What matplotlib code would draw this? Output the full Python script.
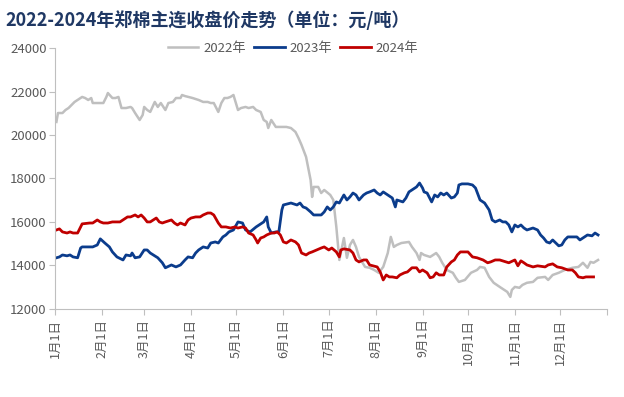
import matplotlib
matplotlib.use("Agg")
import matplotlib.pyplot as plt

plt.rcParams['font.family'] = ['Noto Sans CJK SC', 'DejaVu Sans']

# day of year (0 = 1月1日) and closing price
days_2022 = [1, 2, 5, 7, 9, 11, 13, 15, 18, 20, 22, 24, 25, 28, 32, 34, 35, 38, 40, 42,
             44, 47, 50, 51, 53, 56, 58, 59, 61, 63, 66, 68, 70, 73, 75, 78, 80, 83, 84, 86,
             91, 95, 98, 101, 103, 105, 108, 110, 112, 114, 116, 118, 121, 123, 126, 128, 131, 133, 136, 138,
             140, 141, 143, 146, 149, 153, 156, 159, 161, 163, 166, 169, 170, 171, 174, 176, 178, 182, 184, 186,
             188, 191, 193, 195, 197, 199, 201, 205, 208, 211, 214, 217, 220, 222, 224, 226, 229, 234, 236, 239,
             241, 242, 244, 248, 252, 254, 256, 259, 263, 265, 267, 271, 275, 279, 281, 284, 287, 290, 294, 299,
             301, 302, 304, 307, 309, 312, 316, 319, 324, 326, 329, 333, 337, 342, 346, 349, 352, 354, 356, 359]
price_2022 = [20600, 21010, 21010, 21150, 21240, 21380, 21520, 21610, 21750, 21700, 21610, 21700, 21470, 21470, 21470, 21750, 21930, 21700, 21700, 21750,
              21240, 21240, 21290, 21240, 21010, 20690, 20920, 21290, 21150, 21060, 21520, 21290, 21470, 21150, 21470, 21520, 21700, 21700, 21840, 21790,
              21700, 21610, 21520, 21520, 21470, 21470, 21060, 21470, 21700, 21700, 21750, 21840, 21150, 21240, 21290, 21240, 21290, 21150, 21060, 20690,
              20600, 20320, 20690, 20370, 20370, 20370, 20320, 20140, 19860, 19540, 18990, 17930, 17150, 17610, 17610, 17330, 17470, 17240, 17010, 15770,
              14250, 15260, 14350, 14940, 15170, 14850, 14390, 13930, 13890, 13790, 13660, 13930, 14570, 15310, 14850, 14940, 15030, 15080, 14850, 14570,
              14250, 14570, 14480, 14390, 14570, 14390, 14120, 13790, 13660, 13430, 13240, 13330, 13660, 13790, 13930, 13890, 13470, 13200, 13010, 12780,
              12550, 12870, 13010, 12970, 13100, 13200, 13240, 13430, 13470, 13330, 13560, 13660, 13790, 13890, 13930, 14120, 13890, 14160, 14120, 14250]

days_2023 = [1, 3, 5, 8, 10, 12, 15, 17, 18, 25, 28, 30, 33, 36, 38, 41, 45, 47, 50, 51,
             53, 56, 59, 61, 63, 68, 71, 73, 77, 80, 83, 86, 88, 91, 93, 95, 98, 101, 103, 106,
             108, 111, 113, 115, 118, 121, 124, 126, 129, 133, 135, 138, 140, 141, 143, 146, 148, 150, 151, 156,
             160, 162, 164, 166, 169, 171, 176, 178, 180, 182, 184, 186, 188, 191, 193, 195, 197, 199, 201, 204,
             206, 208, 211, 213, 215, 217, 220, 223, 225, 226, 230, 232, 234, 236, 239, 241, 243, 244, 246, 249,
             251, 253, 255, 257, 259, 262, 264, 266, 267, 269, 273, 276, 278, 281, 283, 284, 287, 289, 291, 294,
             296, 298, 300, 302, 304, 306, 308, 310, 312, 316, 319, 321, 323, 325, 327, 329, 333, 335, 337, 339,
             342, 345, 347, 349, 352, 355, 357, 359]
price_2023 = [14350, 14390, 14480, 14440, 14480, 14390, 14350, 14800, 14850, 14850, 14940, 15220, 15030, 14850, 14620, 14390, 14250, 14480, 14440, 14570,
              14350, 14390, 14710, 14710, 14570, 14350, 14120, 13890, 14020, 13930, 14020, 14250, 14390, 14350, 14570, 14710, 14850, 14800, 15030, 15080,
              15030, 15310, 15400, 15540, 15630, 16000, 15950, 15630, 15540, 15770, 15860, 16000, 16230, 15770, 15490, 15540, 15540, 16550, 16780, 16870,
              16780, 16870, 16690, 16640, 16460, 16320, 16320, 16460, 16690, 16550, 16690, 16920, 16870, 17240, 17010, 17150, 17330, 17240, 17010, 17240,
              17330, 17380, 17470, 17330, 17240, 17380, 17240, 17100, 16690, 17010, 16920, 17100, 17380, 17470, 17610, 17790, 17560, 17380, 17330, 16920,
              17240, 17150, 17330, 17240, 17330, 17100, 17150, 17330, 17700, 17750, 17750, 17700, 17560, 17010, 16920, 16870, 16550, 16090, 16000, 16090,
              16000, 16000, 15860, 15540, 15860, 15770, 15860, 15720, 15630, 15720, 15630, 15400, 15260, 15080, 15030, 15170, 14900, 14940, 15170, 15310,
              15310, 15310, 15170, 15260, 15400, 15360, 15490, 15400]

days_2024 = [1, 3, 5, 8, 10, 12, 15, 17, 18, 23, 25, 28, 30, 32, 35, 38, 43, 48, 50, 53,
             55, 57, 59, 61, 63, 67, 69, 71, 73, 77, 79, 81, 83, 86, 88, 90, 93, 96, 98, 101,
             103, 105, 108, 110, 113, 116, 119, 121, 124, 126, 128, 131, 133, 134, 136, 138, 140, 143, 145, 147,
             149, 151, 153, 156, 159, 161, 163, 166, 168, 170, 173, 176, 178, 181, 183, 186, 188, 189, 191, 195,
             197, 199, 201, 204, 206, 208, 213, 215, 217, 219, 221, 223, 226, 228, 231, 233, 236, 239, 241, 243,
             246, 248, 250, 252, 254, 257, 259, 262, 264, 266, 268, 273, 276, 279, 283, 286, 288, 291, 294, 298,
             300, 304, 306, 308, 310, 312, 316, 319, 324, 326, 329, 332, 335, 339, 342, 344, 346, 349, 351, 354,
             356]
price_2024 = [15630, 15680, 15540, 15490, 15540, 15490, 15490, 15770, 15910, 15950, 15950, 16090, 16000, 15950, 15950, 16000, 16000, 16230, 16230, 16320,
              16230, 16320, 16180, 16000, 16000, 16180, 16000, 15950, 16000, 16090, 15950, 15860, 15950, 15860, 16090, 16180, 16230, 16230, 16320, 16410,
              16410, 16320, 15950, 15770, 15770, 15720, 15770, 15720, 15770, 15720, 15490, 15400, 15170, 15030, 15260, 15310, 15400, 15490, 15490, 15540,
              15400, 15080, 15030, 15170, 15080, 14940, 14570, 14480, 14570, 14620, 14710, 14800, 14850, 14710, 14800, 14620, 14390, 14710, 14760, 14710,
              14570, 14250, 14160, 14250, 14250, 14020, 13930, 13700, 13330, 13560, 13470, 13470, 13430, 13560, 13660, 13700, 13890, 13890, 13700, 13790,
              13660, 13430, 13470, 13660, 13560, 13560, 13930, 14160, 14250, 14480, 14620, 14620, 14390, 14350, 14250, 14120, 14160, 14250, 14250, 14160,
              14120, 14250, 13980, 14210, 14120, 14020, 13930, 13980, 13930, 14020, 14070, 13930, 13890, 13790, 13790, 13660, 13470, 13430, 13470, 13470,
              13470]

month_starts = [0, 31, 59, 90, 120, 151, 181, 212, 243, 273, 304, 334]
month_labels = [f"{m}月1日" for m in range(1, 13)]

fig = plt.figure(figsize=(6.24, 3.97), dpi=100)
ax = fig.add_axes([0.088, 0.222, 0.885, 0.657])

ax.plot(days_2022, price_2022, color="#bfbfbf", lw=1.8, label="2022年")
ax.plot(days_2023, price_2023, color="#0b3c8c", lw=2.0, label="2023年")
ax.plot(days_2024, price_2024, color="#c00000", lw=2.0, label="2024年")

ax.set_xlim(0, 365)
ax.set_ylim(12000, 24000)
ax.set_yticks(range(12000, 24001, 2000))
ax.set_xticks(month_starts + [365])
ax.set_xticklabels(month_labels + [""], rotation=90)

for s in ["top", "right"]:
    ax.spines[s].set_visible(False)
for s in ["left", "bottom"]:
    ax.spines[s].set_color("#bfbfbf")
    ax.spines[s].set_linewidth(0.8)
ax.tick_params(axis="both", colors="#bfbfbf", labelcolor="#595959", length=4, width=0.8)
ax.tick_params(axis="y", labelsize=9.5, pad=2)
ax.tick_params(axis="x", labelsize=9, pad=3)

fig.text(0.008, 0.95, "2022-2024年郑棉主连收盘价走势（单位：元/吨）", fontsize=13,
         fontweight="bold", color="#1f3864", va="center", ha="left")

leg = fig.legend(loc="center", bbox_to_anchor=(0.47, 0.878), ncol=3, frameon=False,
                 fontsize=9.5, handlelength=2.3, columnspacing=0.6, handletextpad=0.4)
for t in leg.get_texts():
    t.set_color("#595959")

fig.savefig("out.png", dpi=100)
